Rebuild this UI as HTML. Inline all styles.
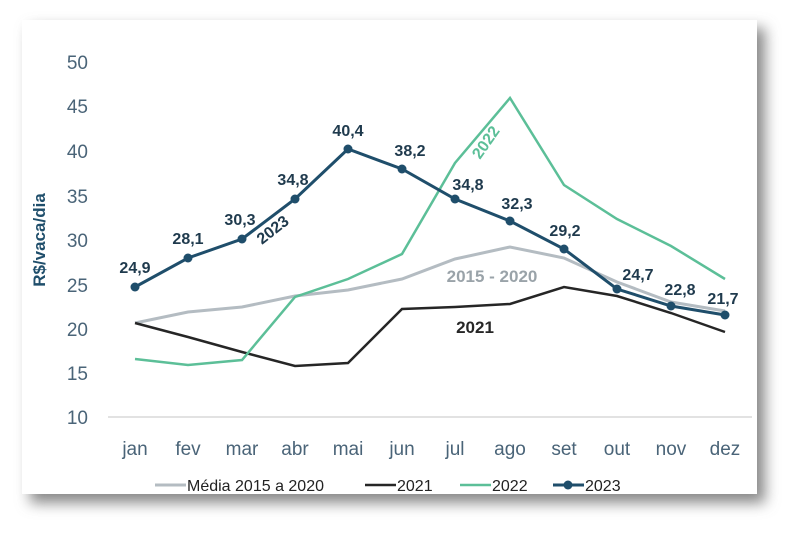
<!DOCTYPE html>
<html><head><meta charset="utf-8"><style>
body{margin:0;width:800px;height:539px;background:#fff;overflow:hidden;font-family:"Liberation Sans",sans-serif}
</style></head><body>
<svg width="800" height="539" xmlns="http://www.w3.org/2000/svg">
<defs><filter id="sh" x="-10%" y="-10%" width="120%" height="125%"><feGaussianBlur stdDeviation="7"/></filter></defs>
<rect x="30" y="28" width="735" height="475" fill="#888" filter="url(#sh)"/>
<rect x="22" y="20" width="735" height="474" fill="#fff"/>
<line x1="108" y1="417" x2="752" y2="417" stroke="#d9d9d9" stroke-width="1.5"/>
<g font-size="19" fill="#4a6478" text-anchor="end">
<text x="88" y="69">50</text><text x="88" y="113">45</text><text x="88" y="158">40</text><text x="88" y="203">35</text><text x="88" y="247">30</text><text x="88" y="292">25</text><text x="88" y="336">20</text><text x="88" y="380">15</text><text x="88" y="424">10</text>
</g>
<text transform="translate(45,240) rotate(-90)" font-size="17" font-weight="bold" fill="#1f4e6b" text-anchor="middle">R$/vaca/dia</text>
<g font-size="19" fill="#4a6478" text-anchor="middle">
<text x="135" y="455">jan</text><text x="188" y="455">fev</text><text x="242" y="455">mar</text><text x="295" y="455">abr</text><text x="348" y="455">mai</text><text x="402" y="455">jun</text><text x="455" y="455">jul</text><text x="510" y="455">ago</text><text x="564" y="455">set</text><text x="617" y="455">out</text><text x="671" y="455">nov</text><text x="725" y="455">dez</text>
</g>
<polyline fill="none" stroke="#b4bcc2" stroke-width="3" points="135,323 188,312 242,307 295,296 348,290 402,279 455,259 510,247 564,258 617,282 671,302 725,311"/>
<polyline fill="none" stroke="#262626" stroke-width="2.5" points="135,323 188,337 242,352 295,366 348,363 402,309 455,307 510,304 564,287 617,296 671,313 725,332"/>
<polyline fill="none" stroke="#5cbf98" stroke-width="2.5" points="135,359 188,365 242,360 295,297 348,279 402,254 455,163 510,98 564,185 617,219 671,246 725,279"/>
<polyline fill="none" stroke="#1f4e6b" stroke-width="3" points="135,287 188,258 242,239 295,199 348,149 402,169 455,199 510,221 564,249 617,289 671,306 725,315"/>
<g fill="#1f4e6b"><circle cx="135" cy="287" r="4.5"/><circle cx="188" cy="258" r="4.5"/><circle cx="242" cy="239" r="4.5"/><circle cx="295" cy="199" r="4.5"/><circle cx="348" cy="149" r="4.5"/><circle cx="402" cy="169" r="4.5"/><circle cx="455" cy="199" r="4.5"/><circle cx="510" cy="221" r="4.5"/><circle cx="564" cy="249" r="4.5"/><circle cx="617" cy="289" r="4.5"/><circle cx="671" cy="306" r="4.5"/><circle cx="725" cy="315" r="4.5"/></g>
<g font-size="16" font-weight="bold" fill="#1f3a4d" text-anchor="middle">
<text x="135" y="273">24,9</text><text x="188" y="244">28,1</text><text x="240" y="225">30,3</text><text x="293" y="185">34,8</text><text x="348" y="136">40,4</text><text x="410" y="156">38,2</text><text x="468" y="190">34,8</text><text x="517" y="209">32,3</text><text x="565" y="236">29,2</text><text x="638" y="280">24,7</text><text x="680" y="295">22,8</text><text x="723" y="304">21,7</text>
</g>
<text transform="translate(262,245) rotate(-38)" font-size="16" font-weight="bold" fill="#1f3a4d">2023</text>
<text transform="translate(480,160) rotate(-55)" font-size="16" font-weight="bold" fill="#5cbf98">2022</text>
<text x="492" y="282" font-size="17" font-weight="bold" fill="#9aa3a9" text-anchor="middle">2015 - 2020</text>
<text x="475" y="333" font-size="17" font-weight="bold" fill="#262626" text-anchor="middle">2021</text>
<g font-size="16" fill="#222">
<line x1="155" y1="485" x2="186" y2="485" stroke="#b4bcc2" stroke-width="3"/><text x="187" y="491">Média 2015 a 2020</text>
<line x1="365" y1="485" x2="396" y2="485" stroke="#262626" stroke-width="2.5"/><text x="397" y="491">2021</text>
<line x1="460" y1="485" x2="491" y2="485" stroke="#5cbf98" stroke-width="2.5"/><text x="492" y="491">2022</text>
<line x1="553" y1="485" x2="584" y2="485" stroke="#1f4e6b" stroke-width="3"/><circle cx="568" cy="485" r="4.5" fill="#1f4e6b"/><text x="585" y="491">2023</text>
</g>
</svg>
</body></html>
